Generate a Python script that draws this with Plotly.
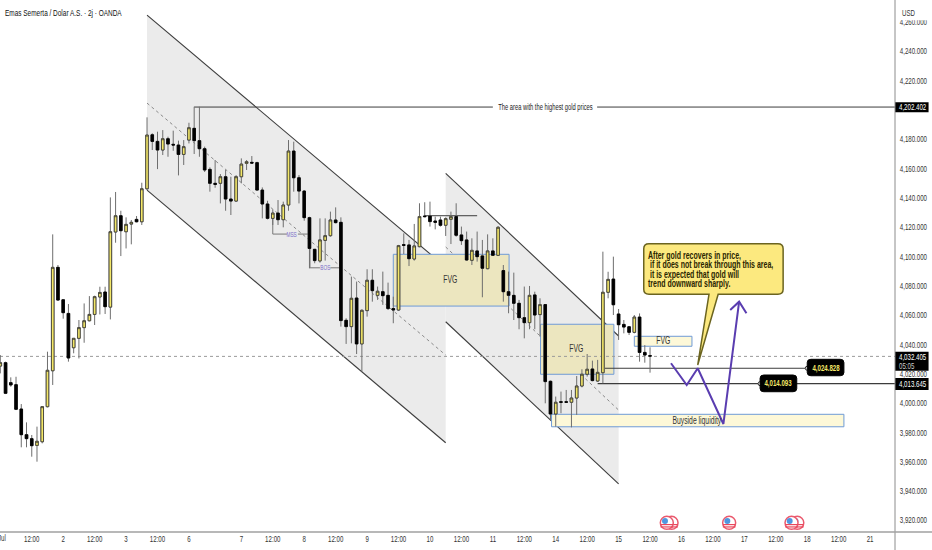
"""Gold 2h candlestick chart with channels, FVG boxes and a trade idea drawn over it."""

import plotly.graph_objs as go

FONT = "Liberation Sans"

# Candles (price at the top/bottom of each body and wick)
body_tops = [
    4027.5, 4027.5, 4013.9, 4012.5, 3995.9, 3978.4, 3975.7, 3973.9, 3997.5, 4022.3,
    4092.5, 4092.5, 4070.4, 4061.1, 4044.1, 4051.4, 4056.1, 4060.4, 4072.5, 4075.4,
    4075.7, 4116.8, 4127.7, 4127.7, 4121.8, 4123.2, 4125.2, 4146.1, 4182.7, 4182.9,
    4178.4, 4180.2, 4180.2, 4176.4, 4175.9, 4174.8, 4187.7, 4187.3, 4178.9, 4173.4,
    4159.3, 4149.8, 4154.3, 4154.3, 4139.1, 4154.3, 4162.9, 4164.5, 4164.1, 4163.9,
    4145.2, 4135.7, 4129.5, 4129.5, 4135.0, 4171.8, 4171.8, 4153.6, 4144.5, 4126.4,
    4104.8, 4111.2, 4114.1, 4124.8, 4124.8, 4123.2, 4056.4, 4071.4, 4071.6, 4063.2,
    4083.7, 4083.7, 4076.2, 4075.9, 4073.4, 4064.4, 4107.3, 4108.0, 4107.8, 4107.1,
    4127.1, 4127.5, 4127.5, 4124.1, 4124.8, 4125.7, 4127.1, 4127.1, 4114.6, 4111.2,
    4104.1, 4103.7, 4100.3, 4103.7, 4103.7, 4119.8, 4090.3, 4075.9, 4073.4, 4068.0,
    4058.2, 4073.4, 4073.7, 4067.1, 4067.1, 4014.8, 4000.5, 4000.9, 4000.9, 4003.4,
    4011.6, 4019.6, 4023.0, 4023.2, 4020.9, 4075.5, 4084.3, 4084.5, 4060.7, 4053.6,
    4052.0, 4058.6, 4058.6, 4034.5, 4032.3,
]
body_bottoms = [
    4025.2, 4006.6, 4012.3, 3995.7, 3978.4, 3975.7, 3970.9, 3971.1, 3973.6, 3997.5,
    4022.0, 4070.2, 4061.6, 4030.7, 4037.7, 4044.1, 4051.4, 4056.1, 4060.4, 4072.3,
    4065.7, 4065.4, 4116.6, 4117.5, 4116.8, 4122.0, 4123.6, 4123.6, 4146.1, 4178.4,
    4172.5, 4172.5, 4176.6, 4175.9, 4169.5, 4169.5, 4179.3, 4178.9, 4173.4, 4158.9,
    4149.8, 4149.1, 4149.8, 4139.1, 4137.7, 4137.7, 4154.3, 4163.4, 4163.6, 4145.2,
    4135.7, 4125.9, 4125.9, 4125.0, 4125.0, 4135.0, 4153.6, 4144.5, 4126.4, 4105.4,
    4097.1, 4096.9, 4110.9, 4114.1, 4123.0, 4056.2, 4052.1, 4052.1, 4040.3, 4040.3,
    4063.0, 4076.6, 4073.4, 4073.2, 4064.4, 4063.4, 4063.4, 4107.5, 4098.4, 4098.2,
    4106.6, 4127.1, 4123.7, 4123.2, 4121.2, 4121.2, 4125.3, 4114.4, 4110.7, 4097.5,
    4097.3, 4099.8, 4091.9, 4091.6, 4100.7, 4100.7, 4075.9, 4073.4, 4068.0, 4058.2,
    4054.8, 4054.8, 4060.0, 4060.3, 4014.6, 3992.5, 3992.5, 4000.5, 4000.5, 4000.5,
    4003.4, 4011.6, 4019.6, 4015.3, 4015.0, 4020.7, 4075.5, 4067.0, 4053.4, 4051.8,
    4048.2, 4048.2, 4034.5, 4032.7, 4032.0,
]
highs = [
    4032.7, 4028.2, 4017.5, 4017.9, 3999.3, 3986.8, 3978.2, 3983.9, 3997.9, 4035.0,
    4115.0, 4094.1, 4070.4, 4067.5, 4044.1, 4056.6, 4067.9, 4072.9, 4073.2, 4079.3,
    4079.3, 4140.2, 4143.9, 4131.1, 4126.6, 4124.8, 4127.5, 4150.2, 4194.8, 4183.9,
    4185.0, 4186.1, 4181.6, 4185.7, 4178.9, 4179.3, 4191.1, 4202.0, 4202.0, 4174.8,
    4160.7, 4165.7, 4156.1, 4158.9, 4154.3, 4155.4, 4166.8, 4165.7, 4168.4, 4164.5,
    4147.0, 4137.9, 4132.0, 4138.4, 4137.3, 4179.3, 4178.2, 4155.4, 4145.2, 4127.0,
    4104.8, 4125.9, 4125.9, 4130.5, 4133.4, 4126.6, 4057.8, 4086.2, 4082.8, 4063.9,
    4091.2, 4091.2, 4079.4, 4089.6, 4082.1, 4072.5, 4107.8, 4115.7, 4111.2, 4122.1,
    4136.2, 4136.9, 4137.3, 4127.1, 4127.1, 4126.6, 4130.5, 4136.2, 4120.3, 4116.9,
    4112.3, 4116.9, 4111.2, 4115.0, 4112.3, 4120.7, 4094.1, 4089.6, 4088.9, 4070.3,
    4079.4, 4079.8, 4075.9, 4071.4, 4067.5, 4015.3, 4004.4, 4007.8, 4008.9, 4008.9,
    4018.4, 4023.0, 4033.4, 4028.9, 4029.4, 4103.2, 4089.5, 4099.8, 4064.1, 4056.6,
    4052.5, 4060.0, 4061.1, 4039.5, 4038.0,
]
lows = [
    4020.2, 4006.1, 4011.1, 3995.2, 3969.8, 3969.8, 3963.4, 3960.0, 3972.5, 3997.0,
    4012.3, 4069.8, 4057.5, 4028.2, 4033.9, 4030.4, 4041.1, 4055.7, 4053.2, 4060.4,
    4060.7, 4057.0, 4109.3, 4100.2, 4105.4, 4108.2, 4123.2, 4121.4, 4145.2, 4172.5,
    4159.5, 4169.1, 4167.9, 4172.0, 4155.2, 4162.3, 4177.0, 4169.8, 4167.9, 4157.5,
    4144.1, 4146.8, 4136.1, 4131.1, 4128.2, 4137.3, 4149.8, 4158.9, 4163.4, 4144.8,
    4125.9, 4125.2, 4121.4, 4121.4, 4119.8, 4131.1, 4144.1, 4136.1, 4124.3, 4091.8,
    4095.3, 4095.7, 4097.1, 4113.4, 4122.5, 4052.1, 4040.3, 4040.7, 4033.4, 4021.4,
    4058.9, 4069.1, 4070.3, 4066.9, 4063.4, 4054.4, 4062.9, 4101.6, 4093.4, 4097.1,
    4106.2, 4126.6, 4120.3, 4118.4, 4120.3, 4113.9, 4108.4, 4113.4, 4107.8, 4097.1,
    4094.1, 4096.4, 4072.1, 4091.2, 4100.3, 4100.3, 4069.1, 4061.2, 4056.6, 4050.3,
    4044.1, 4050.3, 4050.3, 4045.3, 3999.8, 3988.4, 3983.9, 3993.0, 4000.3, 3983.4,
    3991.9, 4010.7, 4018.0, 4014.8, 4014.4, 4013.4, 4071.4, 4060.0, 4043.0, 4047.5,
    4046.4, 4047.5, 4028.2, 4027.5, 4020.7,
]
up_candles = [
    0, 7, 8, 9, 10, 14, 15, 16, 17, 18, 19, 21, 22, 24, 25, 27, 28, 31, 35, 36, 42,
    45, 46, 47, 52, 54, 55, 61, 62, 63, 67, 69, 70, 72, 76, 79, 80, 85, 86, 90, 93,
    95, 101, 103, 106, 109, 110, 111, 112, 114, 115, 116, 121,
]

# Axis ticks
x_tick_vals = [6, 12, 18, 24, 30, 36, 46, 52, 58, 64, 70, 76, 82, 88, 94, 100,
               106, 112, 118, 124, 130, 136, 142, 148, 154, 160, 166]
x_tick_text = ["12:00", "2", "12:00", "3", "12:00", "6", "7", "12:00", "8",
               "12:00", "9", "12:00", "10", "12:00", "11", "12:00", "14", "12:00",
               "15", "12:00", "16", "12:00", "17", "12:00", "18", "12:00", "21"]
# 4,200 sits fully under the black tag in the reference
y_tick_vals = [v for v in range(3920, 4280, 20) if v != 4200]

# Economic events along the bottom
event_x = [127.2, 128.1, 139.1, 151.0, 152.1]
EVENT_Y = 3918.3

# Purple projected path
path_x = [128, 131, 133.1, 138, 141]
path_y = [4027.1, 4012.3, 4023.7, 3985.7, 4069.1]
head_x = [139.3, 141, 142.4]
head_y = [4063.4, 4069.1, 4061.2]

callout_lines = [
    "After gold recovers in price,",
    "\u00a0if it does not break through this area,",
    "\u00a0it is expected that gold will",
    "trend downward sharply.",
]
callout_y = [4100.6, 4094.2, 4087.8, 4081.6]

X_RANGE = [-0.06, 170.75]
Y_RANGE = [3912.05, 4274.8]

GREY = "#ebebeb"
LINE = "#3c3c3c"
BLUE = "#6f9bd6"
YELLOW = "#f3e768"
PURPLE = "#5a3db0"
TAG_RIGHT = 1.0375

ups = set(up_candles)
index = list(range(len(highs)))
opens = [body_bottoms[i] if i in ups else body_tops[i] for i in index]
closes = [body_tops[i] if i in ups else body_bottoms[i] for i in index]


def seg(x0, y0, x1, y1, color=LINE, width=1, dash="solid"):
    """Straight line in candle index / price."""
    return dict(type="line", x0=x0, y0=y0, x1=x1, y1=y1, layer="below",
                line=dict(color=color, width=width, dash=dash))


def box(x0, y0, x1, y1, fill, line=BLUE):
    """Rectangle zone."""
    return dict(type="rect", x0=x0, y0=y0, x1=x1, y1=y1, layer="below",
                fillcolor=fill, line=dict(color=line, width=1))


def rounded(x0, y0, x1, y1, rx=0.7, ry=2.2):
    """Black rounded price label."""
    path = (f"M {x0+rx},{y1} L {x1-rx},{y1} Q {x1},{y1} {x1},{y1-ry} "
            f"L {x1},{y0+ry} Q {x1},{y0} {x1-rx},{y0} L {x0+rx},{y0} "
            f"Q {x0},{y0} {x0},{y0+ry} L {x0},{y1-ry} Q {x0},{y1} {x0+rx},{y1} Z")
    return dict(type="path", path=path, fillcolor="#000000", layer="above",
                line=dict(color="#000000", width=1))


def tag_box(y0, y1):
    """Black tag on the price axis."""
    return dict(type="rect", xref="paper", yref="y", x0=1, x1=TAG_RIGHT, y0=y0, y1=y1,
                fillcolor="#000000", line=dict(width=0), layer="above")


def label(x, y, text, size=10, color="#333333", bold=False):
    """Plain text placed on the chart."""
    return dict(x=x, y=y, text=f"<b>{text}</b>" if bold else text, showarrow=False,
                font=dict(family=FONT, size=size, color=color))


def axis_tag(y, text, color="#ffffff"):
    """Text sitting on a black axis tag."""
    return dict(xref="paper", x=1.002, xanchor="left", align="left", y=y, yref="y",
                text=text, showarrow=False,
                font=dict(family=FONT, size=9, color=color))


shapes = [
    # first channel
    dict(type="path", path="M 28,4264.5 L 85,4092.7 L 85,3972.9 L 28,4145.2 Z",
         fillcolor=GREY, line=dict(width=0), layer="below"),
    # second channel
    dict(type="path", path="M 85,4156.6 L 118,4045.7 L 118,3944.8 L 85,4055.4 Z",
         fillcolor=GREY, line=dict(width=0), layer="below"),
    seg(28, 4264.5, 85, 4092.7, width=1.1),
    seg(28, 4145.2, 85, 3972.9, width=1.1),
    seg(28, 4204.5, 85, 4032.7, color="#8a8a8a", dash="3px,3px"),
    seg(85, 4156.6, 118, 4045.7, width=1.1),
    seg(85, 4055.4, 118, 3944.8, width=1.1),
    seg(85, 4106.4, 118, 3995.2, color="#8a8a8a", dash="3px,3px"),
    # zones
    box(75, 4101.4, 97.1, 4066.1, "#ece6bf"),
    box(103.1, 4053.7, 117.1, 4019.6, "#ece6bf"),
    box(121, 4045.5, 132, 4038.7, "#fdf8d8"),
    box(105.2, 3992.3, 161, 3983.8, "#fdf8d8"),
    # last price line
    seg(X_RANGE[0], 4031.8, X_RANGE[1], 4031.8, color="#9a9a9a", dash="dot"),
    # highest prices line
    seg(37, 4201.8, 94, 4201.8),
    seg(113.9, 4201.8, X_RANGE[1], 4201.8),
    seg(80.9, 4127.7, 91, 4127.7),
    # structure marks
    seg(52, 4126, 52, 4115.2, color="#777777"),
    seg(52, 4115.2, 54.7, 4115.2, color="#777777"),
    seg(56.8, 4115.2, 58.7, 4115.2, color="#777777"),
    seg(59.1, 4105.7, 59.1, 4092.2, color="#777777"),
    seg(59.1, 4092.2, 61, 4092.2, color="#777777"),
    seg(63, 4092.2, 64.8, 4092.2, color="#777777"),
    # target levels
    seg(115.4, 4023.7, 154, 4023.7),
    seg(114, 4013.2, X_RANGE[1], 4013.2, width=1.2),
    rounded(154, 4018.6, 161, 4029.8),
    rounded(145, 4007.7, 152, 4019.1),
    # callout balloon
    dict(type="path", layer="above", fillcolor="#fce97f",
         line=dict(color="#6b6420", width=1.5),
         path=("M 123.8,4108.6 L 148.4,4108.6 Q 149.4,4108.6 149.4,4105.2 "
               "L 149.4,4077.5 Q 149.4,4074.1 148.4,4074.1 L 137,4074.1 "
               "L 133.1,4025.9 L 135.25,4074.1 L 123.8,4074.1 "
               "Q 122.8,4074.1 122.8,4077.5 L 122.8,4105.2 "
               "Q 122.8,4108.6 123.8,4108.6 Z")),
    # box behind the currency, price tags and axis lines
    dict(type="rect", xref="paper", yref="paper", x0=1.002, x1=1.042, y0=0.962, y1=1.0,
         fillcolor="#ffffff", line=dict(width=0), layer="above"),
    tag_box(4198.2, 4205.0),
    tag_box(4022.0, 4035.0),
    tag_box(4008.9, 4017.0),
    dict(type="line", xref="paper", yref="paper", x0=1, x1=1, y0=-0.034, y1=1,
         line=dict(color="#8c8c8c", width=1), layer="above"),
    dict(type="line", xref="paper", yref="paper", x0=0, x1=1.042, y0=0, y1=0,
         line=dict(color="#a0a0a0", width=1.5), layer="above"),
]

annotations = [
    label(104, 4201.8, "The area with the highest gold prices", size=8.5, color="#222222"),
    label(86, 4084.3, "FVG"),
    label(110, 4037, "FVG"),
    label(126.5, 4042.3, "FVG"),
    label(132.9, 3988.2, "Buyside liquidity"),
    label(55.7, 4115.2, "MSS", size=7, color="#7a6cc8"),
    label(62, 4092.2, "BOS", size=7, color="#7a6cc8"),
    label(157.5, 4024.2, "4,024.828", size=9, color=YELLOW, bold=True),
    label(148.5, 4013.4, "4,014.093", size=9, color=YELLOW, bold=True),
    axis_tag(4201.6, "4,202.402"),
    axis_tag(4031.6, "4,032.405"),
    axis_tag(4025.2, "05:05", color="#cccccc"),
    axis_tag(4013.0, "4,013.645"),
    dict(xref="paper", yref="paper", x=0.003, y=0.9905, xanchor="left", align="left",
         showarrow=False, text="Emas Semerta / Dolar A.S. · 2j · OANDA",
         font=dict(family=FONT, size=9.5, color="#111111")),
    dict(xref="paper", yref="paper", x=1.006, y=0.988, xanchor="left", align="left",
         showarrow=False, text="USD", font=dict(family=FONT, size=9, color="#333333")),
    # month label, cut by the left edge
    dict(xref="paper", yref="paper", x=-0.005, y=-0.024, xanchor="left", align="left",
         showarrow=False, text="Jul", font=dict(family=FONT, size=9, color="#333333")),
]
for text, y in zip(callout_lines, callout_y):
    annotations.append(dict(x=123.3, y=y, xanchor="left", align="left", showarrow=False,
                            text=f"<b>{text}</b>",
                            font=dict(family=FONT, size=10.3, color="#2a2500")))

fig = go.Figure()

# Wicks in grey first, bodies with a black outline on top of them
fig.add_trace(go.Candlestick(
    x=index, open=opens, high=highs, low=lows, close=closes,
    increasing=dict(line=dict(color="#6e6e6e", width=1), fillcolor=YELLOW),
    decreasing=dict(line=dict(color="#6e6e6e", width=1), fillcolor="#000000"),
    hoverinfo="skip",
))
fig.add_trace(go.Candlestick(
    x=index, open=opens, close=closes, high=body_tops, low=body_bottoms,
    increasing=dict(line=dict(color="#333333", width=0.8), fillcolor=YELLOW),
    decreasing=dict(line=dict(color="#000000", width=0.8), fillcolor="#000000"),
    hoverinfo="skip",
))

# Projected move
fig.add_trace(go.Scatter(x=path_x, y=path_y, mode="lines",
                         line=dict(color=PURPLE, width=2), hoverinfo="skip"))
fig.add_trace(go.Scatter(x=head_x, y=head_y, mode="lines",
                         line=dict(color=PURPLE, width=2), hoverinfo="skip"))

# Ends of the target lines
fig.add_trace(go.Scatter(x=[154, 145], y=[4023.7, 4013.2], mode="markers",
                         marker=dict(size=4, color="#ffffff",
                                     line=dict(color="#333333", width=1)),
                         hoverinfo="skip"))

# US event badges, right one first so the left one overlaps it
for ex in reversed(event_x):
    fig.add_trace(go.Scatter(x=[ex], y=[EVENT_Y], mode="markers", hoverinfo="skip",
                             marker=dict(size=13, color="#ffffff",
                                         line=dict(color="#ea5a6e", width=1.5))))
    fig.add_trace(go.Scatter(x=[ex - 0.35], y=[EVENT_Y + 1.3], mode="markers",
                             hoverinfo="skip",
                             marker=dict(size=6, color="#4f97e0")))
    fig.add_trace(go.Scatter(x=[ex, ex], y=[EVENT_Y - 1.2, EVENT_Y - 2.8], mode="markers",
                             hoverinfo="skip",
                             marker=dict(size=9, symbol="line-ew",
                                         line=dict(color="#e8485c", width=1.2))))

fig.update_layout(
    width=932,
    height=550,
    margin=dict(l=0, r=37, t=0, b=18, autoexpand=False),
    paper_bgcolor="#ffffff",
    plot_bgcolor="#ffffff",
    showlegend=False,
    font=dict(family=FONT, size=9, color="#333333"),
    shapes=shapes,
    annotations=annotations,
    xaxis=dict(
        range=X_RANGE,
        rangeslider=dict(visible=False),
        showgrid=False,
        zeroline=False,
        showline=False,
        tickvals=x_tick_vals,
        ticktext=x_tick_text,
        ticks="",
        tickfont=dict(family=FONT, size=9, color="#333333"),
    ),
    yaxis=dict(
        range=Y_RANGE,
        side="right",
        showgrid=False,
        zeroline=False,
        showline=False,
        tickvals=y_tick_vals,
        ticktext=[f"{v:,.3f}" for v in y_tick_vals],
        ticks="outside",
        ticklen=2,
        tickcolor="rgba(0,0,0,0)",
        tickfont=dict(family=FONT, size=9, color="#333333"),
    ),
)

# The reference text is condensed and no narrow font is installed, so squeeze the glyphs
squeeze = """
document.body.style.margin = '0';
document.querySelectorAll('.main-svg text').forEach(function (t) {
  var w = t.getComputedTextLength();
  if (w > 0) {
    t.setAttribute('textLength', w * 0.68);
    t.setAttribute('lengthAdjust', 'spacingAndGlyphs');
  }
});
"""
fig.write_html("out.html", config={"displayModeBar": False}, post_script=squeeze)
